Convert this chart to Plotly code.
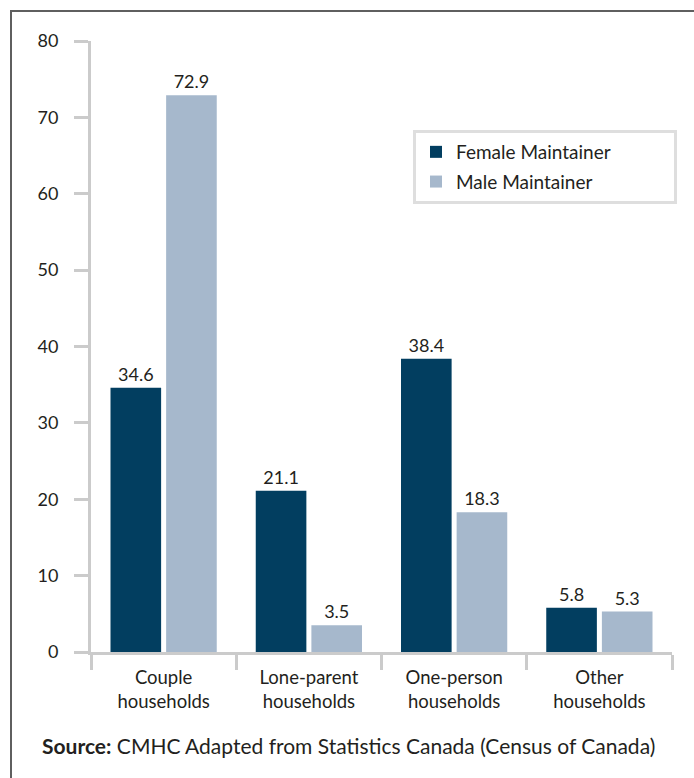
import plotly.graph_objects as go

# Household type by sex of primary maintainer (%)
categories = ["Couple<br>households", "Lone-parent<br>households",
              "One-person<br>households", "Other<br>households"]
female = [34.6, 21.1, 38.4, 5.8]
male = [72.9, 3.5, 18.3, 5.3]
y_ticks = [0, 10, 20, 30, 40, 50, 60, 70, 80]

W, H = 694, 778
L, R, T, B = 91, 22, 41, 126
pw, ph = W - L - R, H - T - B


def px_x(px):
    return (px - L) / pw


def px_y(py):
    return (H - B - py) / ph


FONT = "Lato"
TXT = "#231f20"
AXIS = "#cbcbcb"
PAD = "\u00a0" * 12  # widen the legend box

fig = go.Figure()
fig.add_trace(go.Bar(
    x=categories, y=female, name="Female Maintainer" + PAD,
    marker=dict(color="#023e60", line=dict(width=0)),
    text=[f"{v:.1f}" for v in female], textposition="outside",
    textfont=dict(family=FONT, size=18, color=TXT), cliponaxis=False,
    legendgroup="f",
))
fig.add_trace(go.Bar(
    x=categories, y=male, name="Male Maintainer",
    marker=dict(color="#a6b8cc", line=dict(width=0)),
    text=[f"{v:.1f}" for v in male], textposition="outside",
    textfont=dict(family=FONT, size=18, color=TXT), cliponaxis=False,
    legendgroup="m",
))

fig.update_layout(
    width=W, height=H,
    margin=dict(l=L, r=R, t=T, b=B),
    paper_bgcolor="white", plot_bgcolor="white",
    barmode="group", bargap=0.234, bargroupgap=0.09,
    font=dict(family=FONT, size=18, color=TXT),
    showlegend=True,
    legend=dict(
        x=px_x(413), y=px_y(130), xanchor="left", yanchor="top",
        bordercolor="#dedede", borderwidth=3, bgcolor="white",
        font=dict(family=FONT, size=19, color=TXT),
        tracegroupgap=2,
    ),
    xaxis=dict(
        showline=True, linecolor=AXIS, linewidth=3,
        ticks="outside", tickson="boundaries", ticklen=15,
        tickcolor=AXIS, tickwidth=3, showgrid=False,
        ticklabelstandoff=7,
        tickfont=dict(family=FONT, size=18.5, color=TXT),
    ),
    yaxis=dict(
        range=[0, 80], tickvals=y_ticks,
        showline=True, linecolor=AXIS, linewidth=3,
        ticks="outside", ticklen=14, tickcolor=AXIS, tickwidth=3,
        showgrid=False, zeroline=False, ticklabelstandoff=12,
        tickfont=dict(family=FONT, size=18, color=TXT),
    ),
    shapes=[
        dict(type="line", xref="paper", yref="paper",
             x0=px_x(10), x1=px_x(W + 5), y0=px_y(11), y1=px_y(11),
             line=dict(color="#5f5f5f", width=2)),
        dict(type="line", xref="paper", yref="paper",
             x0=px_x(11), x1=px_x(11), y0=px_y(10), y1=px_y(H + 5),
             line=dict(color="#5f5f5f", width=2)),
    ],
    annotations=[
        dict(xref="paper", yref="paper", x=px_x(40), y=px_y(746),
             xanchor="left", yanchor="middle", showarrow=False,
             text="<b>Source:</b> CMHC Adapted from Statistics Canada (Census of Canada)",
             font=dict(family=FONT, size=21, color=TXT)),
    ],
)

fig.write_html("out.html")
